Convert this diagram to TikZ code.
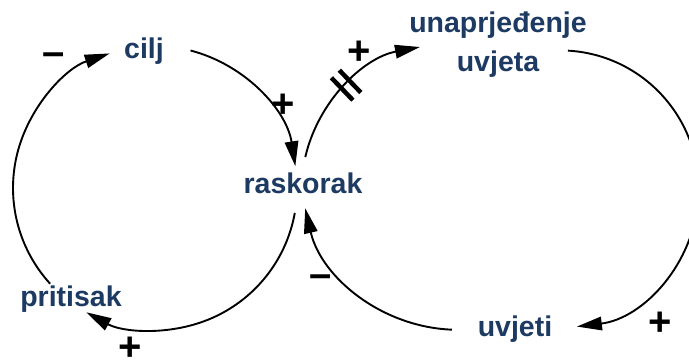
\documentclass[tikz,border=0pt]{standalone}
\usepackage{fontspec}
\setmainfont{Liberation Sans}
\usetikzlibrary{arrows.meta,calc}
\definecolor{lbl}{RGB}{29,58,99}
\begin{document}
\begin{tikzpicture}[x=1pt,y=1pt,
  var/.style={font=\fontsize{28.5}{39}\selectfont\bfseries, text=lbl, inner sep=0pt, align=center},
  sgn/.style={font=\fontsize{40}{40}\selectfont\bfseries, inner sep=0pt},
  link/.style={line width=1.9pt, -{Triangle[length=25pt,width=13.5pt]}},
  delaybar/.style={line width=4.5pt}]
\useasboundingbox (0,0) rectangle (689,361);
% centres of the arcs
\coordinate (C1) at (155,173);
\coordinate (CB) at (447,171);
\coordinate (CC) at (560,172);
\coordinate (CD) at (458,188);
% variables
\node[var, anchor=base] (cilj) at (144,302) {cilj};
\node[var] (unap) at (498,316.5) {unaprjeđenje\\uvjeta};
\node[var, anchor=base] (rask) at (303,167) {raskorak};
\node[var, anchor=base] (prit) at (71,54.5) {pritisak};
\node[var, anchor=base] (uvj) at (515,24.5) {uvjeti};
% arc end points
\coordinate (a1) at ($(C1)+(75.5:142)$);
\coordinate (a2) at ($(C1)+(-10.1:142)$);
\coordinate (a3) at ($(C1)+(222.4:142)$);
\coordinate (b1) at ($(CB)+(166.9:145.5)$);
\coordinate (c1) at ($(CC)+(86.7:138.6)$);
\coordinate (d1) at ($(CD)+(267.8:156.8)$);
\coordinate (dm) at ($(CB)+(133.9:145.5)$);
% connectors
\draw[link] (a1) arc[start angle=75.5, end angle=8.8, radius=142];
\draw[link] (a2) arc[start angle=-10.1, end angle=-118.9, radius=142];
\draw[link] (a3) arc[start angle=222.4, end angle=108.6, radius=142];
\draw[link] (b1) arc[start angle=166.9, end angle=100.7, radius=145.5];
\draw[link] (c1) arc[start angle=86.7, end angle=-83, radius=138.6];
\draw[link] (d1) arc[start angle=267.8, end angle=193, radius=156.8];
% delay mark
\begin{scope}[shift={(dm)}, rotate=43.9]
  \draw[delaybar] (-5.5,-15.5) -- (-5.5,15.5);
  \draw[delaybar] (5.5,-15.5) -- (5.5,15.5);
\end{scope}
% polarities
\node[sgn] (s1) at (54,302) {–};
\node[sgn] (s2) at (283,255) {+};
\node[sgn] (s3) at (359,308) {+};
\node[sgn] (s4) at (130,12.5) {+};
\node[sgn] (s5) at (321,80) {–};
\node[sgn] (s6) at (660,37) {+};
\end{tikzpicture}
\end{document}
